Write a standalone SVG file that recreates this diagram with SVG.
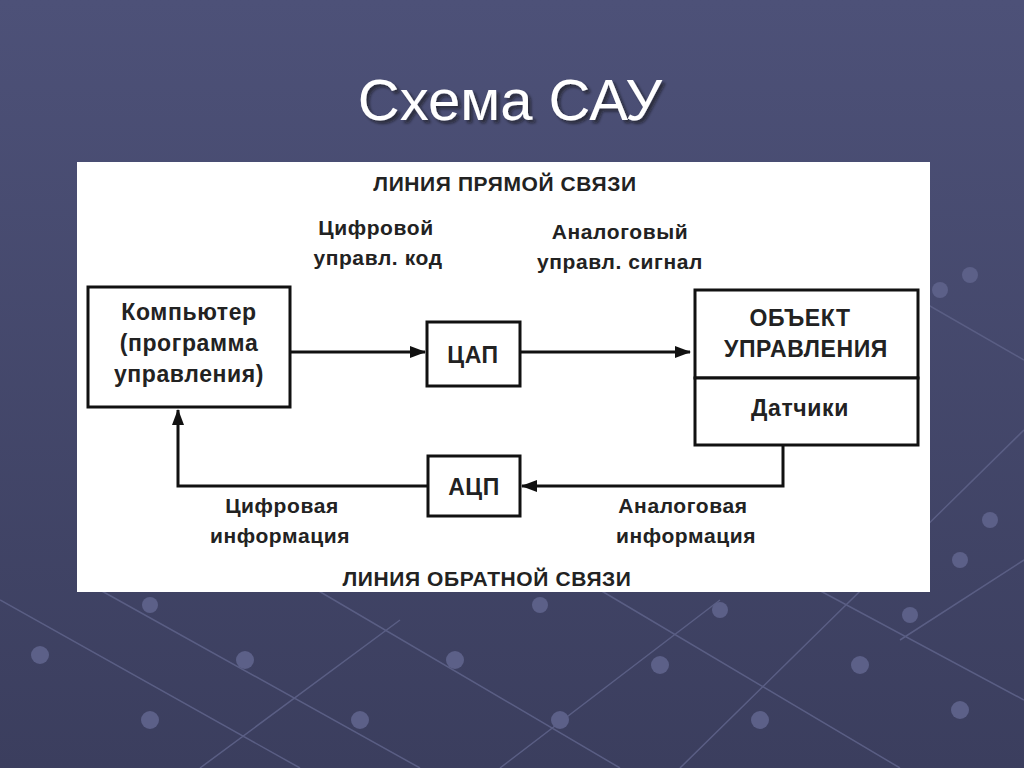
<svg xmlns="http://www.w3.org/2000/svg" width="1024" height="768" viewBox="0 0 1024 768">
<defs>
<linearGradient id="bg" x1="0" y1="0" x2="0" y2="1"><stop offset="0" stop-color="#4d5178"/><stop offset="1" stop-color="#3b3e5e"/></linearGradient>
<filter id="sh"><feDropShadow dx="3" dy="3" stdDeviation="1.5" flood-color="#111" flood-opacity="0.6"/></filter>
<marker id="ah" markerWidth="16" markerHeight="12" refX="15" refY="6" orient="auto" markerUnits="userSpaceOnUse"><path d="M0,0 L16,6 L0,12 Z" fill="#111"/></marker>
<style>
.t{font-family:"Liberation Sans",Arial,sans-serif;fill:#222;text-anchor:middle;font-weight:bold;letter-spacing:0.6px}
.b{fill:#fff;stroke:#111;stroke-width:3}
.l{stroke:#111;stroke-width:3;fill:none}
.g{stroke:#5a5e84;stroke-width:1.5;fill:none}
.d{fill:#5c6088}
</style>
</defs>
<rect width="1024" height="768" fill="url(#bg)"/>
<g id="decor">
<path class="g" d="M0,600 L300,768 M100,590 L420,768 M300,580 L620,768 M600,590 L900,768 M850,260 L1024,360 M800,580 L1024,700 M1024,430 L680,768 M1024,560 L900,640 M500,768 L720,600 M200,768 L400,620"/>
<circle class="d" cx="40" cy="655" r="9"/><circle class="d" cx="150" cy="720" r="9"/><circle class="d" cx="245" cy="660" r="9"/>
<circle class="d" cx="360" cy="720" r="9"/><circle class="d" cx="455" cy="660" r="9"/><circle class="d" cx="560" cy="720" r="9"/>
<circle class="d" cx="660" cy="665" r="9"/><circle class="d" cx="760" cy="720" r="9"/><circle class="d" cx="860" cy="665" r="9"/>
<circle class="d" cx="960" cy="710" r="9"/><circle class="d" cx="940" cy="290" r="8"/><circle class="d" cx="970" cy="275" r="8"/>
<circle class="d" cx="990" cy="520" r="8"/><circle class="d" cx="960" cy="560" r="8"/><circle class="d" cx="150" cy="605" r="8"/>
<circle class="d" cx="540" cy="605" r="8"/><circle class="d" cx="720" cy="610" r="8"/><circle class="d" cx="910" cy="615" r="8"/>
</g>
<text x="510" y="120" font-family="Liberation Sans,Arial,sans-serif" font-size="58" fill="#fff" text-anchor="middle" filter="url(#sh)">Схема САУ</text>
<rect x="77" y="162" width="853" height="430" fill="#fff"/>
<g id="labels" font-size="21">
<text class="t" x="505" y="191">ЛИНИЯ ПРЯМОЙ СВЯЗИ</text>
<text class="t" x="376" y="235">Цифровой</text>
<text class="t" x="378" y="265">управл. код</text>
<text class="t" x="620" y="239">Аналоговый</text>
<text class="t" x="620" y="269">управл. сигнал</text>
<text class="t" x="282" y="513">Цифровая</text>
<text class="t" x="280" y="543">информация</text>
<text class="t" x="683" y="513">Аналоговая</text>
<text class="t" x="686" y="543">информация</text>
<text class="t" x="487" y="586">ЛИНИЯ ОБРАТНОЙ СВЯЗИ</text>
</g>
<g id="connectors">
<line class="l" x1="290" y1="352" x2="425" y2="352" marker-end="url(#ah)"/>
<line class="l" x1="520" y1="352" x2="690" y2="352" marker-end="url(#ah)"/>
<polyline class="l" points="783,445 783,486 522,486" marker-end="url(#ah)"/>
<polyline class="l" points="428,486 178,486 178,410" marker-end="url(#ah)"/>
</g>
<g id="computer"><rect class="b" x="88" y="287" width="202" height="120"/>
<text class="t" x="189" y="320" font-size="23">Компьютер</text>
<text class="t" x="189" y="351" font-size="23">(программа</text>
<text class="t" x="189" y="382" font-size="23">управления)</text></g>
<g id="dac"><rect class="b" x="427" y="322" width="93" height="64"/><text class="t" x="473" y="363" font-size="23">ЦАП</text></g>
<g id="object"><rect class="b" x="695" y="290" width="223" height="88"/>
<text class="t" x="800" y="326" font-size="23">ОБЪЕКТ</text>
<text class="t" x="806" y="357" font-size="23">УПРАВЛЕНИЯ</text></g>
<g id="sensors"><rect class="b" x="695" y="378" width="223" height="67"/><text class="t" x="800" y="416" font-size="23">Датчики</text></g>
<g id="adc"><rect class="b" x="428" y="456" width="92" height="60"/><text class="t" x="474" y="495" font-size="23">АЦП</text></g>
</svg>
